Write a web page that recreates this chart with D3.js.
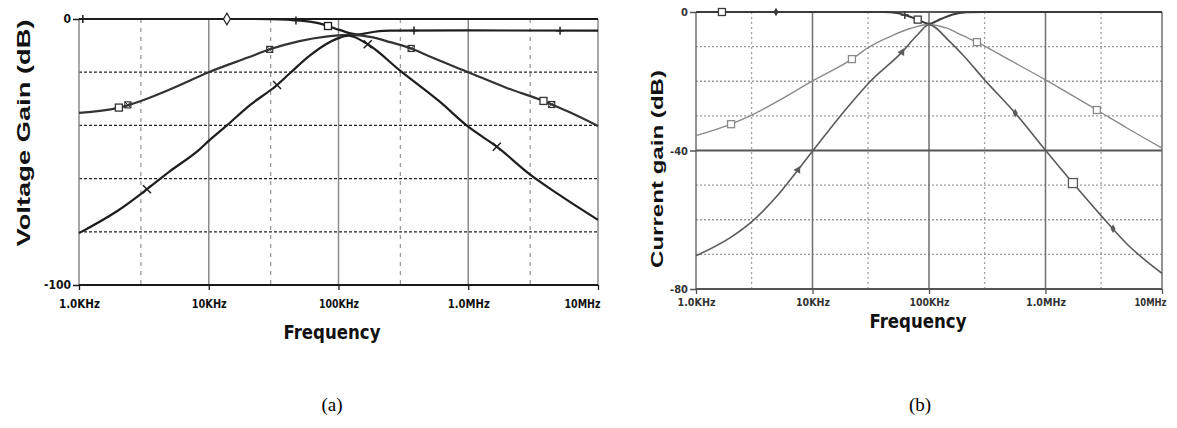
<!DOCTYPE html>
<html>
<head>
<meta charset="utf-8">
<script src="https://cdn.jsdelivr.net/npm/d3@7"></script>
<style>
body{margin:0;background:#fff;}
svg{display:block;}
</style>
</head>
<body>
<div id="chart"></div>
<script>
// assi frequenza
var freq_ticks = [1e3, 1e4, 1e5, 1e6, 1e7];
var freq_labels = ["1.0KHz", "10KHz", "100KHz", "1.0MHz", "10MHz"];
var minor_ticks = [3e3, 3e4, 3e5, 3e6];

// (a) guadagno in tensione [Hz, dB]
var volt_flat = [[1e3,0],[2e4,0],[4e4,-0.2],[6e4,-1],[7.6e4,-2],[1.03e5,-4.2],[1.39e5,-5.8],[1.9e5,-4.8],[2.5e5,-4.4],[1e6,-4.3],[1e7,-4.4]];
var volt_wide = [[1e3,-35.3],[2e3,-33.4],[3e3,-30.8],[5e3,-26.5],[1e4,-20],[2e4,-14.5],[3e4,-11.3],[5e4,-8.3],[8e4,-6.6],[1.2e5,-6],[1.8e5,-6.8],[2.5e5,-8.7],[3.6e5,-11],[5e5,-14],[1e6,-20],[2e6,-26],[3.8e6,-30.8],[6e6,-35],[1e7,-40.2]];
var volt_narrow = [[1e3,-80.5],[2e3,-72],[3.34e3,-64],[5e3,-57.3],[8.5e3,-49],[1e4,-45.8],[1.38e4,-40],[2e4,-33],[3.36e4,-24.8],[4.2e4,-20.5],[6e4,-13.8],[8e4,-9.5],[1e5,-7.2],[1.2e5,-6.3],[1.68e5,-9.5],[3e5,-19.5],[6e5,-31],[1e6,-40.5],[1.66e6,-48],[3e6,-58.5],[5e6,-66],[1e7,-75.5]];

// marcatori [Hz, simbolo]
var volt_flat_marks = [[1.07e3,"plus"],[1.38e4,"diamond"],[4.7e4,"plus"],[8.3e4,"square"],[3.82e5,"plus"],[5.1e6,"plus"]];
var volt_wide_marks = [[2.03e3,"square"],[2.38e3,"squarex"],[2.95e4,"squarex"],[3.63e5,"squarex"],[3.8e6,"square"],[4.4e6,"squarex"]];
var volt_narrow_marks = [[3.34e3,"x"],[3.36e4,"x"],[1.68e5,"x"],[1.66e6,"x"]];

var volt_y_ticks = [0, -100];
var volt_h_grid = [-20, -40, -60, -80];

// (b) guadagno in corrente [Hz, dB]
var curr_flat = [[1e3,0],[4e4,0],[5.5e4,-0.4],[6.5e4,-1.1],[8e4,-2.2],[1e5,-3.4],[1.25e5,-2.1],[1.6e5,-0.7],[2.1e5,-0.1],[3e5,0],[1e7,0]];
var curr_wide = [[1e3,-35.7],[2e3,-32.4],[3e3,-29.8],[5e3,-25.8],[1e4,-19.9],[2.18e4,-13.6],[3e4,-10.3],[5e4,-6.6],[7e4,-4.7],[1e5,-3.6],[1.4e5,-4.6],[2e5,-7],[2.58e5,-8.7],[5e5,-14],[1e6,-19.6],[2.76e6,-28.3],[5e6,-33.5],[1e7,-39.3]];
var curr_narrow = [[1e3,-70.4],[2e3,-65],[3e3,-60.6],[5e3,-53],[7.5e3,-45.6],[1e4,-40.2],[2e4,-27.5],[3.1e4,-20.2],[5.86e4,-11.6],[8e4,-6.5],[1e5,-3.7],[1.5e5,-8.5],[2e5,-12.8],[3e5,-19.6],[5.5e5,-29.2],[1e6,-39.9],[1.72e6,-49.4],[3e6,-58.8],[5e6,-67],[1e7,-75.5]];

var curr_flat_marks = [[1.67e3,"square"],[4.86e3,"dot"],[6.2e4,"plus"],[8e4,"square"]];
var curr_wide_marks = [[2e3,"square"],[2.18e4,"square"],[2.58e5,"square"],[2.76e6,"square"]];
var curr_narrow_marks = [[7.5e3,"tri"],[5.86e4,"tri"],[5.5e5,"dot"],[1.72e6,"bigsquare"],[3.8e6,"dot"]];

var curr_y_ticks = [0, -40, -80];
var curr_h_grid = [-10, -20, -30, -50, -60, -70];

var svg = d3.select("#chart").append("svg")
	.attr("width", 1177)
	.attr("height", 428);

// interpola il valore in dB su una curva (log f)
function db_at(data, f) {
	for (var i = 1; i < data.length; i++) {
		if (f <= data[i][0]) {
			var a = data[i-1], b = data[i];
			var t = (Math.log(f) - Math.log(a[0])) / (Math.log(b[0]) - Math.log(a[0]));
			return a[1] + t * (b[1] - a[1]);
		}
	}
	return data[data.length-1][1];
}

function draw_marker(g, kind, px, py, color) {
	var m = g.append("g").attr("transform", "translate(" + px + "," + py + ")");
	if (kind == "square" || kind == "bigsquare") {
		var s = kind == "square" ? 7 : 9;
		m.append("rect").attr("x", -s/2).attr("y", -s/2).attr("width", s).attr("height", s)
			.attr("fill", "#fff").attr("stroke", color).attr("stroke-width", 1.3);
	} else if (kind == "squarex") {
		m.append("rect").attr("x", -3).attr("y", -3).attr("width", 6).attr("height", 6)
			.attr("fill", "none").attr("stroke", color).attr("stroke-width", 1.2);
		m.append("path").attr("d", "M-3,-3L3,3M-3,3L3,-3").attr("stroke", color).attr("stroke-width", 1);
	} else if (kind == "plus") {
		m.append("path").attr("d", "M-4,0L4,0M0,-4L0,4").attr("stroke", color).attr("stroke-width", 1.5);
	} else if (kind == "x") {
		m.append("path").attr("d", "M-4,-4L4,4M-4,4L4,-4").attr("stroke", color).attr("stroke-width", 1.5);
	} else if (kind == "diamond") {
		m.append("path").attr("d", d3.symbol(d3.symbolDiamond, 40)).attr("fill", "#fff")
			.attr("stroke", color).attr("stroke-width", 1.2);
	} else if (kind == "dot") {
		m.append("path").attr("d", d3.symbol(d3.symbolDiamond, 22)).attr("fill", color);
	} else if (kind == "tri") {
		m.append("path").attr("d", d3.symbol(d3.symbolTriangle, 26)).attr("transform", "rotate(150)")
			.attr("fill", color);
	}
}

function draw_panel(p) {
	var x = d3.scaleLog().domain([1e3, 1e7]).range([p.left, p.right]);
	var y = d3.scaleLinear().domain([p.db_min, 0]).range([p.bottom, p.top]);
	var g = svg.append("g");

	// griglia verticale tratteggiata (3x)
	g.selectAll(".vminor").data(minor_ticks).enter().append("line")
		.attr("x1", function(d){ return x(d); }).attr("x2", function(d){ return x(d); })
		.attr("y1", y(0)).attr("y2", y(p.db_min))
		.attr("stroke", p.minor_color).attr("stroke-width", 1.3)
		.attr("stroke-dasharray", p.v_dash);

	// griglia orizzontale tratteggiata
	g.selectAll(".hgrid").data(p.h_grid).enter().append("line")
		.attr("x1", x(1e3)).attr("x2", x(1e7))
		.attr("y1", function(d){ return y(d); }).attr("y2", function(d){ return y(d); })
		.attr("stroke", p.h_color).attr("stroke-width", 1.3)
		.attr("stroke-dasharray", p.h_dash);

	// decadi, linee continue
	g.selectAll(".vmajor").data(freq_ticks).enter().append("line")
		.attr("x1", function(d){ return x(d); }).attr("x2", function(d){ return x(d); })
		.attr("y1", y(0)).attr("y2", y(p.db_min))
		.attr("stroke", p.major_color).attr("stroke-width", 1.5);

	// linee orizzontali continue (bordi e -40)
	g.selectAll(".hmajor").data(p.y_ticks).enter().append("line")
		.attr("x1", x(1e3)).attr("x2", x(1e7))
		.attr("y1", function(d){ return y(d); }).attr("y2", function(d){ return y(d); })
		.attr("stroke", p.border_color).attr("stroke-width", 2);

	// asse x
	var xaxis = g.append("g")
		.attr("transform", "translate(0," + y(p.db_min) + ")")
		.call(d3.axisBottom(x).tickValues(freq_ticks)
			.tickFormat(function(d, i){ return freq_labels[i]; })
			.tickSize(5).tickPadding(p.x_pad));
	xaxis.select(".domain").remove();
	xaxis.selectAll("line").attr("stroke", p.border_color).attr("stroke-width", 1.3);
	xaxis.selectAll("text")
		.attr("fill", p.label_color)
		.style("font-family", "'DejaVu Sans Condensed', 'Liberation Sans Narrow', sans-serif")
		.style("font-weight", "bold")
		.style("font-size", p.tick_size + "px")
		.attr("textLength", function(d, i){ return p.tick_len[i]; })
		.attr("lengthAdjust", "spacingAndGlyphs")
		.attr("text-anchor", function(d, i){ return i == 4 ? "start" : "middle"; })
		.attr("x", function(d, i){ return i == 4 ? p.last_dx - p.tick_len[4] : 0; });

	// asse y
	var yaxis = g.append("g")
		.attr("transform", "translate(" + x(1e3) + ",0)")
		.call(d3.axisLeft(y).tickValues(p.y_ticks)
			.tickFormat(function(d){ return String(d); })
			.tickSize(6).tickPadding(2));
	yaxis.select(".domain").remove();
	yaxis.selectAll("line").attr("stroke", p.border_color).attr("stroke-width", 1.5);
	yaxis.selectAll("text")
		.attr("fill", p.label_color)
		.style("font-family", "'DejaVu Sans Condensed', 'Liberation Sans Narrow', sans-serif")
		.style("font-weight", "bold")
		.style("font-size", p.tick_size + "px");

	// curve
	var line = d3.line()
		.x(function(d){ return x(d[0]); })
		.y(function(d){ return y(d[1]); })
		.curve(d3.curveMonotoneX);

	p.curves.forEach(function(c) {
		g.append("path")
			.attr("d", line(c.data))
			.attr("fill", "none")
			.attr("stroke", c.color)
			.attr("stroke-width", c.width);
	});
	p.curves.forEach(function(c) {
		c.marks.forEach(function(m) {
			draw_marker(g, m[1], x(m[0]), y(db_at(c.data, m[0])), c.color);
		});
	});

	// titoli assi
	g.append("text")
		.attr("transform", "translate(" + p.ylab_x + "," + p.ylab_y + ") rotate(-90)")
		.attr("text-anchor", "middle")
		.attr("dominant-baseline", "central")
		.style("font-family", "'Liberation Sans', Arial, sans-serif")
		.style("font-weight", "bold")
		.style("font-size", p.ylab_size + "px")
		.attr("textLength", p.ylab_len)
		.attr("lengthAdjust", "spacingAndGlyphs")
		.attr("fill", "#111")
		.text(p.ylab);

	g.append("text")
		.attr("x", p.xlab_x).attr("y", p.xlab_y)
		.attr("text-anchor", "middle")
		.attr("dominant-baseline", "central")
		.style("font-family", "'Liberation Sans Narrow', 'DejaVu Sans Condensed', 'Liberation Sans', sans-serif")
		.style("font-weight", "bold")
		.style("font-size", "20px")
		.attr("textLength", 97)
		.attr("lengthAdjust", "spacingAndGlyphs")
		.attr("fill", "#111")
		.text("Frequency");

	g.append("text")
		.attr("x", p.cap_x).attr("y", p.cap_y)
		.attr("text-anchor", "middle")
		.attr("dominant-baseline", "central")
		.style("font-family", "'Liberation Serif', 'Times New Roman', serif")
		.style("font-size", "19px")
		.attr("fill", "#000")
		.text(p.caption);
}

draw_panel({
	left: 79, right: 598, top: 19, bottom: 285, db_min: -100,
	y_ticks: volt_y_ticks, h_grid: volt_h_grid,
	minor_color: "#9a9a9a", v_dash: "4,5",
	h_color: "#222", h_dash: "3,2",
	major_color: "#8a8a8a", border_color: "#1a1a1a",
	label_color: "#111", tick_size: 12, x_pad: 9,
	tick_len: [41, 35, 40, 42, 36], last_dx: 2,
	curves: [
		{data: volt_flat, marks: volt_flat_marks, color: "#1e1e1e", width: 2.2},
		{data: volt_wide, marks: volt_wide_marks, color: "#333", width: 2.2},
		{data: volt_narrow, marks: volt_narrow_marks, color: "#1e1e1e", width: 2.2}
	],
	ylab: "Voltage Gain (dB)", ylab_x: 24, ylab_y: 133, ylab_size: 18, ylab_len: 227,
	xlab_x: 332, xlab_y: 332, caption: "(a)", cap_x: 332, cap_y: 404
});

draw_panel({
	left: 696, right: 1162, top: 12, bottom: 289, db_min: -80,
	y_ticks: curr_y_ticks, h_grid: curr_h_grid,
	minor_color: "#a0a0a0", v_dash: "2,3",
	h_color: "#9a9a9a", h_dash: "2,2",
	major_color: "#707070", border_color: "#555",
	label_color: "#333", tick_size: 11, x_pad: 4,
	tick_len: [38, 34, 40, 40, 32], last_dx: 4,
	curves: [
		{data: curr_flat, marks: curr_flat_marks, color: "#3a3a3a", width: 2},
		{data: curr_wide, marks: curr_wide_marks, color: "#8a8a8a", width: 1.4},
		{data: curr_narrow, marks: curr_narrow_marks, color: "#5a5a5a", width: 1.6}
	],
	ylab: "Current gain (dB)", ylab_x: 657, ylab_y: 169, ylab_size: 16, ylab_len: 198,
	xlab_x: 918, xlab_y: 321, caption: "(b)", cap_x: 920, cap_y: 404
});
</script>
</body>
</html>
